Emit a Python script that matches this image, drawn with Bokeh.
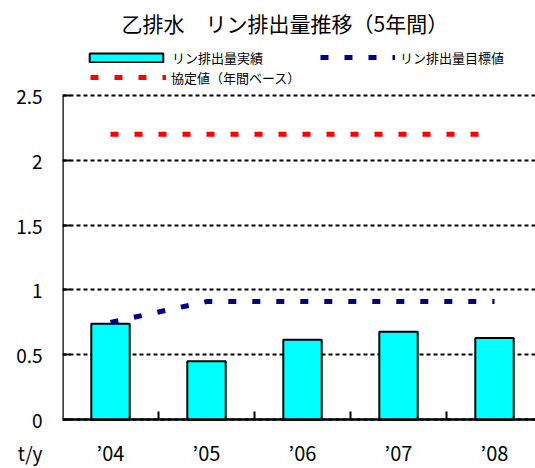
from bokeh.plotting import figure
from bokeh.models import Range1d, FixedTicker, Legend, LegendItem, LinearAxis
from bokeh.embed import file_html
from bokeh.resources import INLINE

# ---- data ----
years = ["’04", "’05", "’06", "’07", "’08"]
results = [0.74, 0.45, 0.616, 0.677, 0.63]
targets = [0.75, 0.91, 0.91, 0.91, 0.91]
agreement = [2.2, 2.2, 2.2, 2.2, 2.2]
yticks = [0, 0.5, 1, 1.5, 2, 2.5]
ytick_labels = ["0", "0.5", "1", "1.5", "2", "2.5"]
unit_text = "t/y"

FONT = "Noto Sans CJK JP"
xs = [i + 0.5 for i in range(len(years))]

# layout constants (pixels): frame x 62..535, y 40..468; value 0 at y=419, 2.5 at y=93
PX_PER_UNIT = (419 - 93) / 2.5
UNIT_Y = -(452 - 419) / PX_PER_UNIT   # row of the x labels, where the unit text sits

p = figure(width=535, height=468, output_backend="svg", toolbar_location=None,
           x_range=Range1d(0, 473 / 96),
           y_range=Range1d(-(468 - 419) / PX_PER_UNIT, (419 - 40) / PX_PER_UNIT),
           min_border_left=62, min_border_right=0, min_border_bottom=0,
           min_border_top=40)
p.outline_line_color = None
p.background_fill_color = "white"

p.title.text = "乙排水　リン排出量推移（5年間）"
p.title.align = "left"
p.title.offset = 59
p.title.text_font = FONT
p.title.text_font_size = "21px"
p.title.text_font_style = "normal"
p.title.text_color = "black"

bars = p.vbar(x=xs, top=results, width=0.4, fill_color="#00FFFF",
              line_color="black", line_width=2)
tline = p.line(xs, targets, line_color="#000080", line_width=5, line_dash="8 16")
aline = p.line(xs, agreement, line_color="#FF0000", line_width=5, line_dash="8 16")

# x axis, drawn at value 0
xax = p.xaxis[0]
xax.fixed_location = 0
xax.ticker = FixedTicker(ticks=xs, minor_ticks=[1, 2, 3, 4])
xax.major_label_overrides = {x: y for x, y in zip(xs, years)}
xax.major_tick_line_color = None
xax.major_tick_in = 0
xax.major_tick_out = 0
xax.minor_tick_in = 8
xax.minor_tick_out = 0
xax.minor_tick_line_width = 2
xax.minor_tick_line_color = "black"
xax.axis_line_width = 2.5
xax.axis_line_color = "black"
xax.major_label_text_font = FONT
xax.major_label_text_font_size = "20px"
xax.major_label_text_color = "black"
xax.major_label_standoff = 18

# left axis: labels only (values + unit)
yax = p.yaxis[0]
yax.ticker = FixedTicker(ticks=[UNIT_Y] + yticks, minor_ticks=[])
yax.major_label_overrides = dict(zip([UNIT_Y] + yticks, [unit_text] + ytick_labels))
yax.major_tick_in = 0
yax.major_tick_out = 0
yax.major_tick_line_color = None
yax.axis_line_color = None
yax.major_label_text_font = FONT
yax.major_label_text_font_size = "19px"
yax.major_label_text_color = "black"
yax.major_label_standoff = 20

p.xgrid.grid_line_color = None
ygrid = p.ygrid[0]
ygrid.ticker = FixedTicker(ticks=yticks, minor_ticks=[])
ygrid.grid_line_color = "black"
ygrid.grid_line_width = 2
ygrid.grid_line_dash = "4 3"

# axis line and ticks, from 0 to 2.5 at the frame's left edge
yline = LinearAxis(fixed_location=0, bounds=(0, 2.5),
                   ticker=FixedTicker(ticks=yticks, minor_ticks=[]))
yline.major_label_text_alpha = 0
yline.major_label_text_font_size = "1px"
yline.major_tick_in = 8
yline.major_tick_out = 0
yline.major_tick_line_width = 2
yline.major_tick_line_color = "black"
yline.axis_line_width = 2.5
yline.axis_line_color = "black"
p.add_layout(yline, "left")


def make_legend(item, glyph_width, glyph_height, standoff, loc):
    lg = Legend(items=[item], orientation="horizontal")
    lg.label_text_font = FONT
    lg.label_text_font_size = "13px"
    lg.label_text_color = "black"
    lg.label_height = 20
    lg.glyph_width = glyph_width
    lg.glyph_height = glyph_height
    lg.spacing = 0
    lg.border_line_color = None
    lg.background_fill_alpha = 0
    lg.label_standoff = standoff
    lg.padding = 0
    lg.margin = 0
    lg.location = loc
    return lg


p.add_layout(make_legend(LegendItem(label="リン排出量実績", renderers=[bars]),
                         92, 11, 0, (18, 401)))
p.add_layout(make_legend(LegendItem(label="リン排出量目標値", renderers=[tline]),
                         75, 10, 5, (258, 401)))
p.add_layout(make_legend(LegendItem(label="協定値（年間ベース）", renderers=[aline]),
                         76, 10, 5, (28, 381)))

open("out.html", "w").write(file_html(p, INLINE))
